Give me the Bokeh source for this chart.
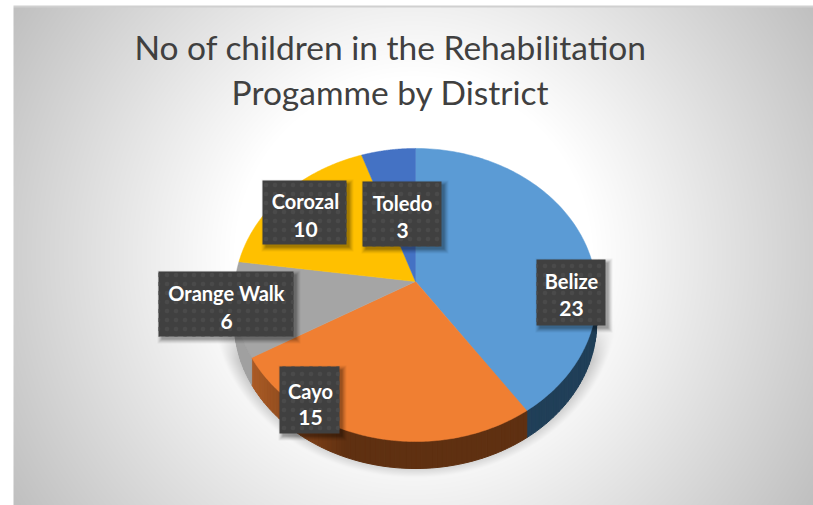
import numpy as np
from bokeh.plotting import figure
from bokeh.models import ColumnDataSource
from bokeh.core.properties import value
from bokeh.embed import file_html
from bokeh.resources import INLINE

# ---- data ----
districts = ["Belize", "Cayo", "Orange Walk", "Corozal", "Toledo"]
children = [23, 15, 6, 10, 3]
title_lines = "No of children in the Rehabilitation\nProgamme by District"

# ---- styles ----
top_colors = ["#5b9bd5", "#f07f32", "#a5a5a5", "#ffc000", "#4472c4"]
wall_dark = [(32, 63, 88), (95, 48, 17), (90, 90, 90), (120, 90, 0), (40, 65, 110)]
wall_light = [(32, 63, 88), (172, 92, 38), (160, 160, 160), (120, 90, 0), (40, 65, 110)]
# label boxes: left, right, top, bottom, text x, name y, value y (page pixels)
boxes = [
    (536, 605, 259, 325, 571, 280, 308),
    (279, 339, 366, 433, 310, 390, 417),
    (158, 293, 271, 336, 226, 292, 321),
    (262, 346, 180, 244, 305, 200, 229),
    (362, 441, 181, 246, 402, 202, 230),
]
W, H = 813, 505
FONT = "Lato"

def Y(y):
    return H - np.asarray(y, dtype=float)

# ---- tilted pie projection ----
CX, CY, A, B, K, DEPTH = 415.0, 281.0, 180.5, 145.3, 0.092, 27.0

def project(theta):
    """theta: clockwise angle from 12 o'clock in radians -> page pixels"""
    u, v = np.sin(theta), np.cos(theta)
    d = 1 + K * v
    return CX + A * u / d, CY - B * v / d

fractions = np.array(children, dtype=float) / sum(children)
edges = np.concatenate([[0], np.cumsum(fractions)]) * 2 * np.pi

p = figure(width=W, height=H, x_range=(0, W), y_range=(0, H),
           toolbar_location=None, output_backend="svg", min_border=0,
           outline_line_color=None, background_fill_color="white", border_fill_color="white")
p.axis.visible = False
p.grid.visible = False

# ---- background gradient + soft pie shadow ----
xs = np.arange(13, W) + 0.5
ys = np.arange(5, H) + 0.5
gx, gy = np.meshgrid(xs, ys)
r = np.hypot(gx - 413, gy - 255)
shade = 255 - 63 * np.clip((r - 180) / 290, 0, 1)
el = np.hypot((gx - 415) / 202, (gy - 305) / 172)
sh = np.clip((1.0 - el) / 0.11, 0, 1) * np.clip((gy - 320) / 40, 0, 1) * (gy < 479)
shade = shade * (1 - 0.3 * sh)
shade[:2, :] = 208
g = shade.astype(np.uint8)
img = np.zeros(g.shape, dtype=np.uint32)
view = img.view(np.uint8).reshape(g.shape + (4,))
view[..., 0] = g
view[..., 1] = g
view[..., 2] = g
view[..., 3] = 255
p.image_rgba(image=[img[::-1]], x=13, y=0, dw=W - 13, dh=H - 5)

# ---- side wall (front arc only) ----
wx, wy, wc = [], [], []
for i in range(len(children)):
    steps = max(int((edges[i + 1] - edges[i]) / np.radians(1.5)), 2)
    th = np.linspace(edges[i], edges[i + 1], steps + 1)
    px, py = project(th)
    for j in range(steps):
        if (py[j] + py[j + 1]) / 2 < CY + 12:
            continue
        xm = (px[j] + px[j + 1]) / 2
        t = np.clip((345 - xm) / 95, 0, 1)
        c = [int(wall_dark[i][k] + (wall_light[i][k] - wall_dark[i][k]) * t) for k in range(3)]
        wx.append([px[j], px[j + 1], px[j + 1], px[j]])
        wy.append(list(Y([py[j], py[j + 1], py[j + 1] + DEPTH, py[j] + DEPTH])))
        wc.append("#%02x%02x%02x" % tuple(c))
p.patches(xs="x", ys="y", fill_color="c", line_color="c", line_width=1,
          source=ColumnDataSource(dict(x=wx, y=wy, c=wc)))

# ---- top face ----
fx, fy = [], []
for i in range(len(children)):
    th = np.linspace(edges[i], edges[i + 1], 120)
    px, py = project(th)
    fx.append([CX] + list(px))
    fy.append(list(Y(np.concatenate([[CY], py]))))
p.patches(xs="x", ys="y", fill_color="c", line_color="c", line_width=0.5,
          source=ColumnDataSource(dict(x=fx, y=fy, c=top_colors)))

# ---- labels ----
for grow, off, alpha in [(4, 3, 0.05), (3, 3, 0.06), (2, 3, 0.08), (1, 3, 0.10), (0, 3, 0.12)]:
    p.quad(left=[b[0] + off - grow for b in boxes], right=[b[1] + off + grow for b in boxes],
           top=list(Y([b[2] + off - grow for b in boxes])), bottom=list(Y([b[3] + off + grow for b in boxes])),
           fill_color="black", fill_alpha=alpha, line_color=None)
p.quad(left=[b[0] for b in boxes], right=[b[1] for b in boxes],
       top=list(Y([b[2] for b in boxes])), bottom=list(Y([b[3] for b in boxes])),
       fill_color="#404040", line_color=None,
       hatch_pattern="dot", hatch_color="#4a4a4a", hatch_scale=9, hatch_weight=1.5)
p.text(x=[b[4] for b in boxes], y=list(Y([b[5] for b in boxes])), text=districts,
       text_color="white", text_font=value(FONT), text_font_style="bold", text_font_size="20px",
       text_align="center", text_baseline="middle")
p.text(x=[b[4] for b in boxes], y=list(Y([b[6] for b in boxes])), text=[str(c) for c in children],
       text_color="white", text_font=value(FONT), text_font_style="bold", text_font_size="21px",
       text_align="center", text_baseline="middle")

# ---- title ----
p.text(x=[390], y=list(Y([69])), text=[title_lines], text_color="#404040",
       text_font=value(FONT), text_font_size="33.5px", text_align="center", text_baseline="middle",
       text_line_height=1.12)

open("out.html", "w").write(file_html(p, INLINE))
